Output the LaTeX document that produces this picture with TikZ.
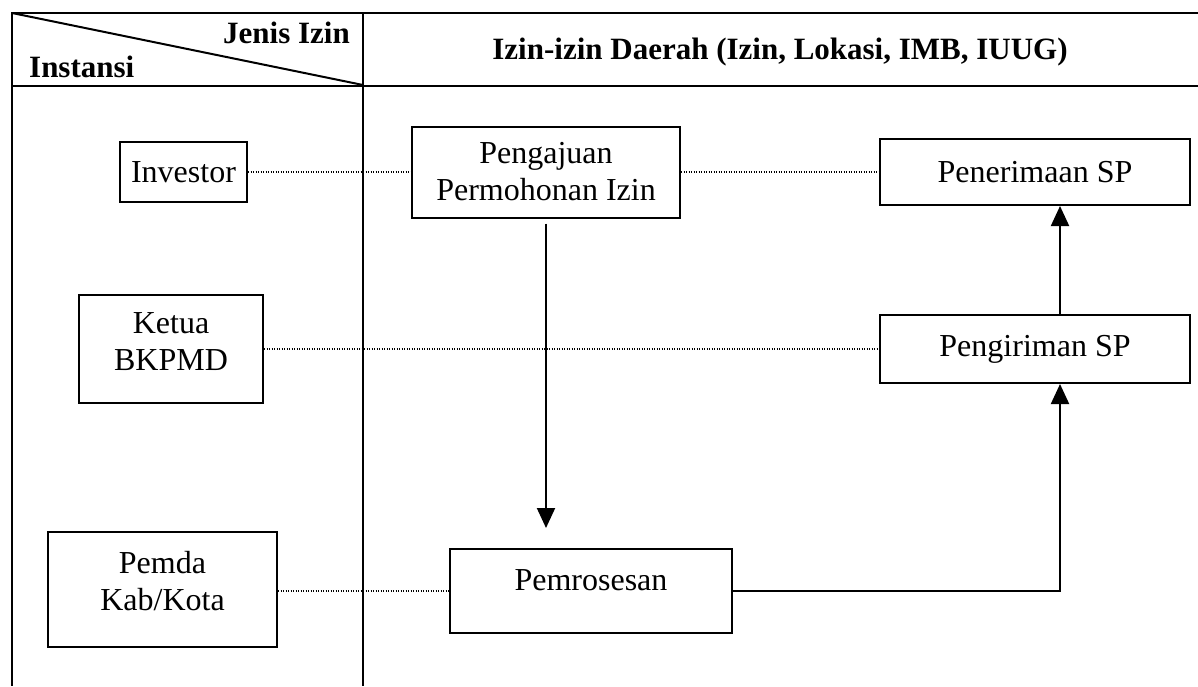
\documentclass[tikz,border=0pt]{standalone}
\usepackage{fontspec}
\setmainfont{Liberation Serif}
\usetikzlibrary{arrows.meta}
\begin{document}
\begin{tikzpicture}[x=1pt,y=-1pt,
  box/.style={draw, line width=2pt, align=center, inner sep=0pt,
    font=\fontsize{32}{37}\selectfont},
  dotline/.style={line width=1.2pt, dash pattern=on 1.2pt off 1.3pt},
  flow/.style={line width=2pt, -{Triangle[length=20pt,width=18pt]}},
  tbl/.style={line width=1.5pt},
  hdr/.style={font=\fontsize{31}{36}\selectfont\bfseries, inner sep=0pt}]
\useasboundingbox (0,0) rectangle (1198,686);
\fill[white] (0,0) rectangle (1198,686);
% table frame
\draw[tbl] (1198,13) -- (12,13) -- (12,686);
\draw[tbl] (12,86) -- (1198,86);
\draw[tbl] (363,13) -- (363,686);
\draw[line width=2pt] (12,13) -- (363,85);
% header texts
\node[hdr, anchor=base east] (jenis) at (350,43) {Jenis Izin};
\node[hdr, anchor=base west] (instansi) at (29,77) {Instansi};
\node[hdr, anchor=base] (judul) at (780,59) {Izin-izin Daerah (Izin, Lokasi, IMB, IUUG)};
% boxes
\node[box, minimum width=127pt, minimum height=60pt] (investor) at (183.5,172) {Investor};
\node[box, minimum width=268pt, minimum height=91pt] (pengajuan) at (546,172) {Pengajuan\\Permohonan Izin};
\node[box, minimum width=310pt, minimum height=66pt] (penerimaan) at (1035,172) {Penerimaan SP};
\node[box, minimum width=184pt, minimum height=108pt] (ketua) at (171,349) {Ketua\\BKPMD\\[-22pt]\mbox{}};
\node[box, minimum width=310pt, minimum height=68pt] (pengiriman) at (1035,349) {Pengiriman SP};
\node[box, minimum width=229pt, minimum height=115pt] (pemda) at (162.5,589) {Pemda\\Kab/Kota\\[-20pt]\mbox{}};
\node[box, minimum width=282pt, minimum height=84pt, text height=41pt, text depth=43pt] (pemrosesan) at (591,591) {Pemrosesan};
% dotted links
\draw[dotline] (investor.east) -- (pengajuan.west);
\draw[dotline] (pengajuan.east) -- (penerimaan.west);
\draw[dotline] (ketua.east) -- (pengiriman.west);
\draw[dotline] (pemda.east |- pemrosesan.west) -- (pemrosesan.west);
% flow arrows
\draw[flow, shorten <=5pt, shorten >=20pt] (pengajuan.south) -- (pengajuan.south |- pemrosesan.north);
\draw[flow] (pemrosesan.east) -| ([xshift=25pt]pengiriman.south);
\draw[flow] ([xshift=25pt]pengiriman.north) -- ([xshift=25pt]penerimaan.south);
\end{tikzpicture}
\end{document}
